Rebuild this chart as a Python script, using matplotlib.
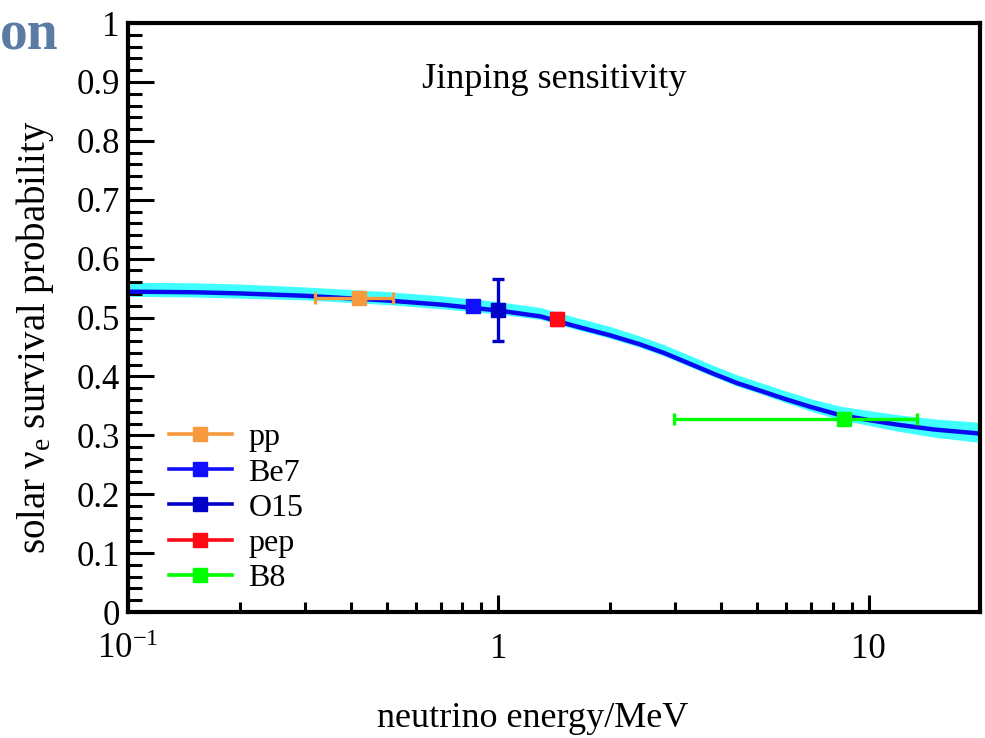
import matplotlib
matplotlib.use("Agg")
import matplotlib.pyplot as plt
from matplotlib.lines import Line2D

plt.rcParams["font.family"] = ["Liberation Serif", "DejaVu Serif"]
plt.rcParams["mathtext.fontset"] = "custom"
plt.rcParams["mathtext.rm"] = "Liberation Serif"
plt.rcParams["mathtext.it"] = "Liberation Serif:italic"

# survival probability curve and its sensitivity band
curve_e = [0.1, 0.15, 0.2, 0.3, 0.5, 0.7, 1.0, 1.3, 1.6, 2.0, 2.4, 2.8, 3.25, 3.8, 4.4,
           5.2, 6.0, 7.0, 8.3, 10.0, 12.0, 15.0, 20.0]
curve_p = [0.544, 0.543, 0.541, 0.537, 0.529, 0.522, 0.512, 0.502, 0.486, 0.470, 0.455,
           0.440, 0.423, 0.405, 0.389, 0.374, 0.361, 0.348, 0.335, 0.326, 0.318, 0.310, 0.303]
band_lo = [0.536, 0.535, 0.533, 0.530, 0.522, 0.515, 0.506, 0.497, 0.481, 0.465, 0.450,
           0.435, 0.418, 0.400, 0.384, 0.369, 0.355, 0.341, 0.327, 0.317, 0.307, 0.297, 0.288]
band_hi = [0.560, 0.559, 0.557, 0.552, 0.544, 0.537, 0.527, 0.517, 0.501, 0.485, 0.469,
           0.454, 0.437, 0.419, 0.403, 0.388, 0.375, 0.362, 0.350, 0.342, 0.335, 0.328, 0.322]

# measured points: energy, prob, x-err low/high, y-err
labels = ["pp", "Be7", "O15", "pep", "B8"]
point_e = [0.42, 0.855, 1.0, 1.44, 8.6]
point_p = [0.533, 0.519, 0.513, 0.497, 0.327]
xerr_lo = [0.10, 0.0, 0.0, 0.0, 5.62]
xerr_hi = [0.10, 0.0, 0.0, 0.0, 4.9]
yerr = [0.0, 0.0, 0.052, 0.01, 0.0]
colors = ["#f79a3e", "#1010ff", "#0000c8", "#ff0a14", "#00ff00"]

fig = plt.figure(figsize=(9.85, 7.38), dpi=100)
ax = fig.add_axes([0.130, 0.1707, 0.865, 0.798])

ax.fill_between(curve_e, band_lo, band_hi, color="#40ffff", lw=0, zorder=1)
ax.plot(curve_e, curve_p, color="#0a0af0", lw=3.2, zorder=2)

for i in range(len(labels)):
    xe = [[xerr_lo[i]], [xerr_hi[i]]] if xerr_hi[i] > 0 else None
    ye = yerr[i] if yerr[i] > 0 else None
    ax.errorbar([point_e[i]], [point_p[i]], xerr=xe, yerr=ye, fmt="s",
                color=colors[i], ms=10, elinewidth=2.4, capsize=4,
                capthick=2.4, zorder=3)

ax.set_xscale("log")
ax.set_xlim(0.1, 20)
ax.set_ylim(0, 1)
ax.set_xticks([0.1, 1, 10])
ax.set_xticklabels([r"$10^{-1}$", "1", "10"])
ax.set_yticks([i / 10 for i in range(11)])
ax.set_yticklabels(["0", "0.1", "0.2", "0.3", "0.4", "0.5", "0.6", "0.7", "0.8", "0.9", "1"])
ax.set_yticks([i / 50 for i in range(51)], minor=True)

ax.tick_params(axis="both", which="both", direction="in", labelsize=25, width=2.2,
               top=False, right=False)
ax.tick_params(axis="y", which="major", length=19, pad=6)
ax.tick_params(axis="y", which="minor", length=10)
ax.tick_params(axis="x", which="major", length=12, pad=15)
ax.tick_params(axis="x", which="minor", length=7)
for s in ax.spines.values():
    s.set_linewidth(3)

ax.set_ylabel(r"solar $\mathrm{\nu_e}$ survival probability", fontsize=28)
ax.yaxis.set_label_coords(-0.085, 0.467)
ax.set_xlabel("neutrino energy/MeV", fontsize=26)
ax.xaxis.set_label_coords(0.475, -0.152)
ax.text(0.5, 0.905, "Jinping sensitivity", transform=ax.transAxes, fontsize=26,
        ha="center", va="center")

handles = [Line2D([0], [0], color=c, lw=2.6, marker="s", ms=10) for c in colors]
ax.legend(handles, labels, loc="lower left", bbox_to_anchor=(0.025, 0.0),
          frameon=False, fontsize=23, handlelength=2.0, handletextpad=0.5,
          labelspacing=0.18, borderaxespad=0.2)

fig.text(0.0, 1 - 50 / 738, "on", fontsize=40, fontweight="bold", color="#5b7ba5",
         ha="left", va="baseline")

fig.savefig("out.png", dpi=100)
